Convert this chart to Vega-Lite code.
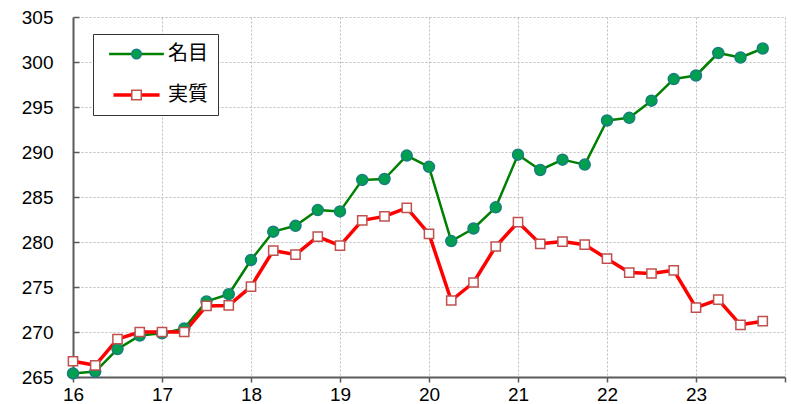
{
  "$schema": "https://vega.github.io/schema/vega-lite/v6.json",
  "width": 712,
  "height": 360,
  "autosize": {"type": "none"},
  "padding": {"left": 73, "top": 17, "right": 6, "bottom": 27},
  "background": "white",
  "config": {"view": {"stroke": null}, "font": "Liberation Sans"},
  "data": {
    "values": [
      {"t": 16.00, "series": "名目", "value": 265.4},
      {"t": 16.25, "series": "名目", "value": 265.6},
      {"t": 16.50, "series": "名目", "value": 268.1},
      {"t": 16.75, "series": "名目", "value": 269.6},
      {"t": 17.00, "series": "名目", "value": 269.85},
      {"t": 17.25, "series": "名目", "value": 270.4},
      {"t": 17.50, "series": "名目", "value": 273.4},
      {"t": 17.75, "series": "名目", "value": 274.2},
      {"t": 18.00, "series": "名目", "value": 278.0},
      {"t": 18.25, "series": "名目", "value": 281.15},
      {"t": 18.50, "series": "名目", "value": 281.8},
      {"t": 18.75, "series": "名目", "value": 283.55},
      {"t": 19.00, "series": "名目", "value": 283.4},
      {"t": 19.25, "series": "名目", "value": 286.9},
      {"t": 19.50, "series": "名目", "value": 287.0},
      {"t": 19.75, "series": "名目", "value": 289.6},
      {"t": 20.00, "series": "名目", "value": 288.35},
      {"t": 20.25, "series": "名目", "value": 280.1},
      {"t": 20.50, "series": "名目", "value": 281.5},
      {"t": 20.75, "series": "名目", "value": 283.85},
      {"t": 21.00, "series": "名目", "value": 289.7},
      {"t": 21.25, "series": "名目", "value": 288.0},
      {"t": 21.50, "series": "名目", "value": 289.15},
      {"t": 21.75, "series": "名目", "value": 288.6},
      {"t": 22.00, "series": "名目", "value": 293.5},
      {"t": 22.25, "series": "名目", "value": 293.8},
      {"t": 22.50, "series": "名目", "value": 295.7},
      {"t": 22.75, "series": "名目", "value": 298.1},
      {"t": 23.00, "series": "名目", "value": 298.5},
      {"t": 23.25, "series": "名目", "value": 301.0},
      {"t": 23.50, "series": "名目", "value": 300.5},
      {"t": 23.75, "series": "名目", "value": 301.5},
      {"t": 16.00, "series": "実質", "value": 266.75},
      {"t": 16.25, "series": "実質", "value": 266.3},
      {"t": 16.50, "series": "実質", "value": 269.2},
      {"t": 16.75, "series": "実質", "value": 270.0},
      {"t": 17.00, "series": "実質", "value": 270.0},
      {"t": 17.25, "series": "実質", "value": 270.0},
      {"t": 17.50, "series": "実質", "value": 272.9},
      {"t": 17.75, "series": "実質", "value": 272.95},
      {"t": 18.00, "series": "実質", "value": 275.05},
      {"t": 18.25, "series": "実質", "value": 279.05},
      {"t": 18.50, "series": "実質", "value": 278.6},
      {"t": 18.75, "series": "実質", "value": 280.6},
      {"t": 19.00, "series": "実質", "value": 279.6},
      {"t": 19.25, "series": "実質", "value": 282.4},
      {"t": 19.50, "series": "実質", "value": 282.85},
      {"t": 19.75, "series": "実質", "value": 283.8},
      {"t": 20.00, "series": "実質", "value": 280.9},
      {"t": 20.25, "series": "実質", "value": 273.5},
      {"t": 20.50, "series": "実質", "value": 275.5},
      {"t": 20.75, "series": "実質", "value": 279.5},
      {"t": 21.00, "series": "実質", "value": 282.2},
      {"t": 21.25, "series": "実質", "value": 279.8},
      {"t": 21.50, "series": "実質", "value": 280.05},
      {"t": 21.75, "series": "実質", "value": 279.7},
      {"t": 22.00, "series": "実質", "value": 278.15},
      {"t": 22.25, "series": "実質", "value": 276.6},
      {"t": 22.50, "series": "実質", "value": 276.5},
      {"t": 22.75, "series": "実質", "value": 276.85},
      {"t": 23.00, "series": "実質", "value": 272.7},
      {"t": 23.25, "series": "実質", "value": 273.6},
      {"t": 23.50, "series": "実質", "value": 270.8},
      {"t": 23.75, "series": "実質", "value": 271.2}
    ]
  },
  "encoding": {
    "x": {
      "field": "t",
      "type": "quantitative",
      "scale": {"domain": [16, 24], "nice": false, "zero": false},
      "axis": {
        "title": null,
        "values": [16, 17, 18, 19, 20, 21, 22, 23, 24],
        "labelExpr": "datum.value < 24 ? datum.label : ''",
        "labelFlush": false,
        "grid": true,
        "gridDash": [2, 2],
        "gridColor": "#BDBDBD",
        "gridWidth": 1,
        "domainColor": "#5A5A5A",
        "domainWidth": 2,
        "tickColor": "#5A5A5A",
        "tickWidth": 1.5,
        "tickSize": 5,
        "labelFontSize": 19,
        "labelColor": "#000000",
        "labelPadding": 3,
        "labelFont": "Liberation Sans"
      }
    },
    "y": {
      "field": "value",
      "type": "quantitative",
      "scale": {"domain": [265, 305], "nice": false, "zero": false},
      "axis": {
        "title": null,
        "values": [265, 270, 275, 280, 285, 290, 295, 300, 305],
        "labelFlush": false,
        "grid": true,
        "gridDash": [2, 2],
        "gridColor": "#BDBDBD",
        "gridWidth": 1,
        "domainColor": "#5A5A5A",
        "domainWidth": 2,
        "tickColor": "#5A5A5A",
        "tickWidth": 1.5,
        "tickSize": -6,
        "labelFontSize": 19,
        "labelColor": "#000000",
        "labelPadding": 26,
        "labelFont": "Liberation Sans"
      }
    }
  },
  "layer": [
    {
      "mark": {"type": "line", "strokeCap": "butt", "strokeJoin": "round"},
      "encoding": {
        "color": {
          "field": "series",
          "type": "nominal",
          "scale": {"domain": ["名目", "実質"], "range": ["#008000", "#FF0000"]},
          "legend": {
            "orient": "none",
            "legendX": 20,
            "legendY": 17,
            "title": null,
            "symbolType": "M-5,0H5",
            "symbolSize": 117,
            "symbolStrokeWidth": 3,
            "symbolOffset": 23.5,
            "labelOffset": 21.5,
            "labelFontSize": 20,
            "labelFont": "Noto Sans CJK JP",
            "labelColor": "#000000",
            "labelExpr": "datum.label + '  '",
            "padding": 10,
            "rowPadding": 21,
            "strokeColor": "#333333",
            "fillColor": "white",
            "zindex": 0
          }
        },
        "strokeWidth": {
          "field": "series",
          "type": "nominal",
          "scale": {"domain": ["名目", "実質"], "range": [2.5, 3.5]},
          "legend": null
        }
      }
    },
    {
      "mark": {"type": "point", "filled": true, "strokeWidth": 1.5, "opacity": 1},
      "encoding": {
        "size": {
          "field": "series",
          "type": "nominal",
          "scale": {"domain": ["名目", "実質"], "range": [120, 85]},
          "legend": null
        },
        "fill": {
          "field": "series",
          "type": "nominal",
          "scale": {"range": ["#00A050", "#FFFFFF"]},
          "legend": {
            "orient": "none", "legendX": 20, "legendY": 17, "title": null,
            "symbolSize": 90, "symbolStrokeWidth": 1.5, "symbolOffset": 23.5,
            "labelOffset": 21.5, "labelFontSize": 20, "labelFont": "Noto Sans CJK JP",
            "labelOpacity": 0, "padding": 10, "rowPadding": 21, "zindex": 1
          }
        },
        "stroke": {
          "field": "series",
          "type": "nominal",
          "scale": {"range": ["#187E7E", "#C0504D"]},
          "legend": {
            "orient": "none", "legendX": 20, "legendY": 17, "title": null,
            "symbolSize": 90, "symbolStrokeWidth": 1.5, "symbolOffset": 23.5,
            "labelOffset": 21.5, "labelFontSize": 20, "labelFont": "Noto Sans CJK JP",
            "labelOpacity": 0, "padding": 10, "rowPadding": 21, "zindex": 1
          }
        },
        "shape": {
          "field": "series",
          "type": "nominal",
          "scale": {"range": ["circle", "square"]},
          "legend": {
            "orient": "none", "legendX": 20, "legendY": 17, "title": null,
            "symbolSize": 90, "symbolStrokeWidth": 1.5, "symbolOffset": 23.5,
            "labelOffset": 21.5, "labelFontSize": 20, "labelFont": "Noto Sans CJK JP",
            "labelOpacity": 0, "padding": 10, "rowPadding": 21, "zindex": 1
          }
        }
      }
    }
  ]
}
